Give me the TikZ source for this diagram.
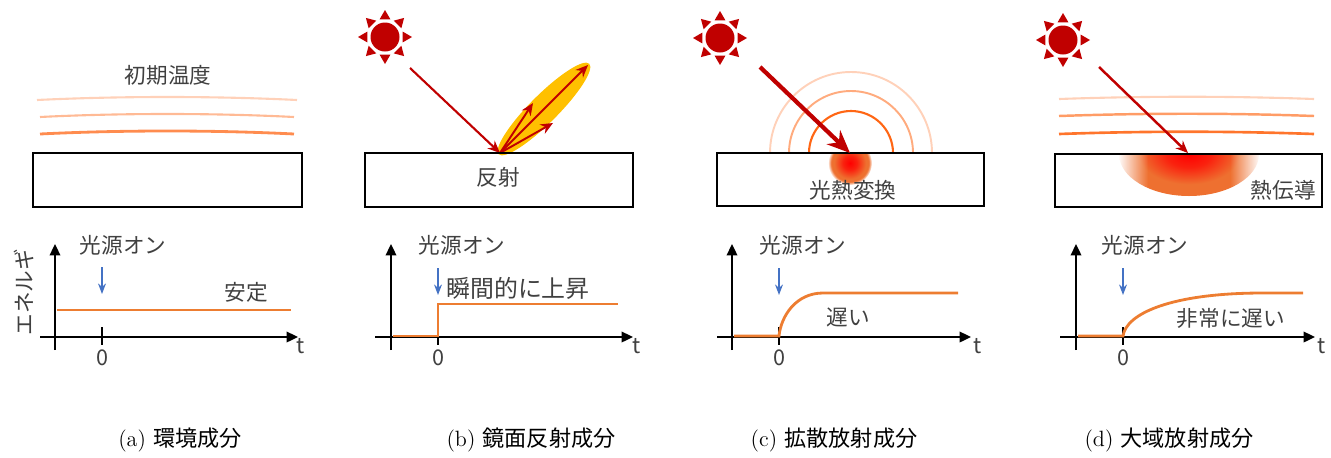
\documentclass[tikz,border=0pt]{standalone}
\usepackage{fontspec}
\newfontfamily\jp{Noto Sans CJK JP}
\usetikzlibrary{arrows.meta,fadings,positioning}
\definecolor{sunred}{RGB}{192,0,0}
\definecolor{lobeyellow}{RGB}{255,192,0}
\definecolor{curveorange}{RGB}{237,125,49}
\definecolor{markblue}{RGB}{68,114,196}
\definecolor{heatorange}{RGB}{255,102,20}
\definecolor{spotorange}{RGB}{238,112,48}
\definecolor{labelgray}{RGB}{64,64,64}

% hot spot: small red core, orange body
\pgfdeclareradialshading{hotspot}{\pgfpoint{0bp}{0bp}}{color(0bp)=(red); color(8bp)=(red!70!spotorange); color(18bp)=(spotorange); color(25bp)=(spotorange); color(50bp)=(spotorange)}

\tikzset{
  lbl/.style={font=\jp\fontsize{12.3}{14}\selectfont, text=labelgray, inner sep=0pt},
  subcap/.style={font=\fontsize{12.6}{15}\selectfont, inner sep=0pt},
  sample/.style={draw=black, line width=1.1pt},
  axis/.style={line width=1.1pt, -{Triangle[length=6.5pt,width=6pt]}},
  tickmark/.style={line width=0.8pt},
  response/.style={curveorange, line width=1.6pt},
  onmark/.style={markblue, line width=0.9pt, -{Stealth[length=6pt,width=4.5pt]}},
  beam/.style={sunred, line width=1.2pt, -{Stealth[length=7pt,width=6pt]}},
  sun/.pic={
    \fill[sunred] (0,0) circle (14.5);
    \foreach \a in {0,45,...,315}
      \fill[sunred] (\a:27) -- (\a+17:18.5) -- (\a-17:18.5) -- cycle;
  }
}

\begin{document}
\begin{tikzpicture}[x=0.02cm,y=0.02cm]
\useasboundingbox (0,0) rectangle (1331,-457);

% (a) ambient: layers of initial temperature over the sample
\node[lbl] (inittemp) at (168,-75) {初期温度};
\draw[heatorange!30, line width=1.2pt] (37,-100) .. controls (120,-96) and (215,-96) .. (297,-100);
\draw[heatorange!45, line width=1.2pt] (40,-117) .. controls (120,-113) and (215,-113) .. (294,-117);
\draw[heatorange!75, line width=1.6pt] (40,-134) .. controls (120,-130) and (215,-130) .. (294,-134);
\draw[sample] (33,-153) rectangle (302,-207);

\coordinate (a-yb) at (55,-350);
\coordinate (a-yt) at (55,-244);
\coordinate (a-xl) at (40,-337);
\coordinate (a-xr) at (298,-337);
\draw[axis] (a-yb) -- (a-yt);
\draw[axis] (a-xl) -- (a-xr);
\draw[tickmark] (102,-327) -- (102,-345);
\node[lbl] (a-zero) at (102,-358) {0};
\node[lbl] (a-t) at (301,-346) {t};
\node[lbl, rotate=90] (energy) at (24,-292) {エネルギ};
\draw[response] (57,-310) -- (291,-310);
\node[lbl] (a-on) at (123,-245) {光源オン};
\coordinate (a-on1) at (102,-267);
\coordinate (a-on2) at (102,-294);
\draw[onmark] (a-on1) -- (a-on2);
\node[lbl] (stable) at (246,-292) {安定};

% (b) specular reflection
\pic at (385,-37) {sun};
\coordinate (b-hit) at (500,-153);
\coordinate (b-src) at (410,-68);
\coordinate (b-r1) at (588,-65);
\coordinate (b-r2) at (533,-103);
\coordinate (b-r3) at (553,-123);
\fill[lobeyellow] (544,-109) ellipse [x radius=64, y radius=14, rotate=45];
\draw[beam] (b-src) -- (b-hit);
\draw[beam, line width=1.1pt] (b-hit) -- (b-r1);
\draw[beam, line width=1.1pt] (b-hit) -- (b-r2);
\draw[beam, line width=1.1pt] (b-hit) -- (b-r3);
\draw[sample] (365,-153) rectangle (633,-207);
\node[lbl] (reflect) at (498,-177) {反射};

\coordinate (b-yb) at (391,-350);
\coordinate (b-yt) at (391,-244);
\coordinate (b-xl) at (375,-337);
\coordinate (b-xr) at (633,-337);
\draw[axis] (b-yb) -- (b-yt);
\draw[axis] (b-xl) -- (b-xr);
\draw[tickmark] (438,-327) -- (438,-345);
\node[lbl] (b-zero) at (438,-358) {0};
\node[lbl] (b-t) at (637,-346) {t};
\draw[response] (393,-336) -- (438,-336) -- (438,-304) -- (618,-304);
\node[lbl] (b-on) at (462,-245) {光源オン};
\coordinate (b-on1) at (438,-268);
\coordinate (b-on2) at (438,-295);
\draw[onmark] (b-on1) -- (b-on2);
\node[lbl, font=\jp\fontsize{13.6}{15}\selectfont, anchor=west] (instant) at (446,-288) {瞬間的に上昇};

% (c) diffuse: photothermal conversion at the spot
\pic at (720,-38) {sun};
\draw[heatorange!30, line width=1.1pt] (770,-153) arc[start angle=180, end angle=0, radius=81];
\draw[heatorange!55, line width=1.1pt] (789,-153) arc[start angle=180, end angle=0, radius=62];
\draw[heatorange, line width=1.2pt] (809,-153) arc[start angle=180, end angle=0, radius=42];
\begin{scope}
  \clip (717,-153) rectangle (984,-206);
  \shade[shading=hotspot, path fading=circle with fuzzy edge 15 percent, fit fading=true] (850,-163) circle (22);
\end{scope}
\draw[sample] (717,-153) rectangle (984,-206);
\node[lbl] (convert) at (853,-190) {光熱変換};
\coordinate (c-src) at (760,-67);
\coordinate (c-hit) at (850,-153);
\draw[sunred, line width=2.4pt, -{Stealth[length=13pt,width=11pt]}] (c-src) -- (c-hit);

\coordinate (c-yb) at (732,-350);
\coordinate (c-yt) at (732,-244);
\coordinate (c-xl) at (717,-337);
\coordinate (c-xr) at (971,-337);
\draw[axis] (c-yb) -- (c-yt);
\draw[axis] (c-xl) -- (c-xr);
\draw[tickmark] (779,-327) -- (779,-345);
\node[lbl] (c-zero) at (779,-358) {0};
\node[lbl] (c-t) at (978,-346) {t};
\draw[response] (734,-336) -- (779,-336) .. controls (781,-316) and (796,-293) .. (823,-293) -- (958,-293);
\node[lbl] (c-on) at (803,-245) {光源オン};
\coordinate (c-on1) at (779,-268);
\coordinate (c-on2) at (779,-295);
\draw[onmark] (c-on1) -- (c-on2);
\node[lbl] (slow) at (848,-317) {遅い};

% (d) global: heat spreads through the sample
\pic at (1063,-40) {sun};
\draw[heatorange!30, line width=1.2pt] (1059,-99) .. controls (1145,-96) and (1230,-96) .. (1314,-99);
\draw[heatorange!65, line width=1.4pt] (1059,-116) .. controls (1145,-113) and (1230,-113) .. (1314,-116);
\draw[heatorange!90, line width=1.5pt] (1059,-134) .. controls (1145,-131) and (1230,-131) .. (1314,-134);
\begin{scope}
  \clip (1055,-154) rectangle (1322,-207);
  \shade[shading=hotspot] (1189,-154) ellipse [x radius=70, y radius=42];
  \fill[white, path fading=east, fit fading=true] (1118,-150) rectangle (1148,-200);
  \fill[white, path fading=west, fit fading=true] (1230,-150) rectangle (1260,-200);
\end{scope}
\draw[sample] (1055,-154) rectangle (1322,-207);
\node[lbl, anchor=east] (conduct) at (1316,-190) {熱伝導};
\coordinate (d-src) at (1099,-67);
\coordinate (d-hit) at (1188,-153);
\draw[beam, line width=1.4pt] (d-src) -- (d-hit);

\coordinate (d-yb) at (1076,-350);
\coordinate (d-yt) at (1076,-244);
\coordinate (d-xl) at (1060,-337);
\coordinate (d-xr) at (1315,-337);
\draw[axis] (d-yb) -- (d-yt);
\draw[axis] (d-xl) -- (d-xr);
\draw[tickmark] (1123,-327) -- (1123,-345);
\node[lbl] (d-zero) at (1123,-358) {0};
\node[lbl] (d-t) at (1322,-346) {t};
\draw[response] (1078,-336) -- (1123,-336) .. controls (1126,-314) and (1170,-293) .. (1263,-293) -- (1303,-293);
\node[lbl] (d-on) at (1145,-245) {光源オン};
\coordinate (d-on1) at (1123,-268);
\coordinate (d-on2) at (1123,-295);
\draw[onmark] (d-on1) -- (d-on2);
\node[lbl] (veryslow) at (1231,-318) {非常に遅い};

% sub-captions
\node[subcap] (cap-a) at (180,-440) {(a) {\jp 環境成分}};
\node[subcap] (cap-b) at (531,-440) {(b) {\jp 鏡面反射成分}};
\node[subcap] (cap-c) at (834,-440) {(c) {\jp 拡散放射成分}};
\node[subcap] (cap-d) at (1169,-440) {(d) {\jp 大域放射成分}};
\end{tikzpicture}
\end{document}
